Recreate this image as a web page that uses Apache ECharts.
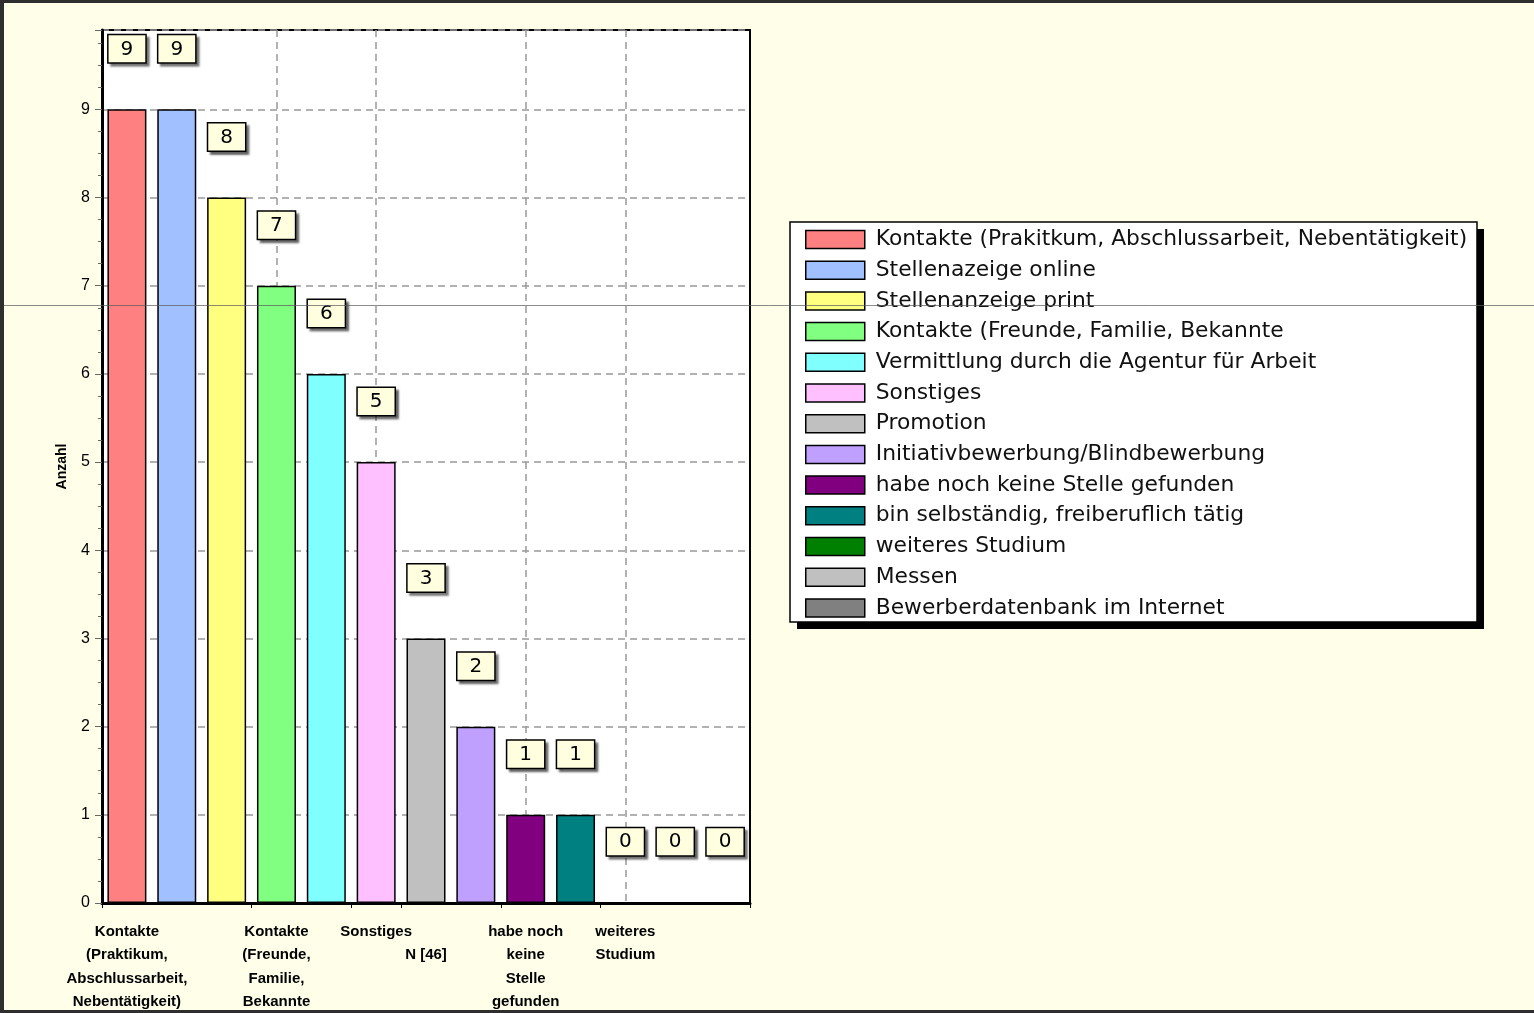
<!DOCTYPE html>
<html>
<head>
<meta charset="utf-8">
<script src="https://cdn.jsdelivr.net/npm/echarts@6/dist/echarts.min.js"></script>
<style>
  html, body { margin: 0; padding: 0; background: #2e2e2e; }
  #chart { position: absolute; left: 4px; top: 3px; width: 1530px; height: 1007px; background: #fefee9; }
</style>
</head>
<body>
<div id="chart"></div>
<script>
// Kategorien (Legende) und Werte
var categories = [
  'Kontakte (Prakitkum, Abschlussarbeit, Nebentätigkeit)',
  'Stellenazeige online',
  'Stellenanzeige print',
  'Kontakte (Freunde, Familie, Bekannte',
  'Vermittlung durch die Agentur für Arbeit',
  'Sonstiges',
  'Promotion',
  'Initiativbewerbung/Blindbewerbung',
  'habe noch keine Stelle gefunden',
  'bin selbständig, freiberuflich tätig',
  'weiteres Studium',
  'Messen',
  'Bewerberdatenbank im Internet'
]
var values = [9, 9, 8, 7, 6, 5, 3, 2, 1, 1, 0, 0, 0]
var colors = ['#ff8080', '#a0c0ff', '#ffff80', '#80ff80', '#80ffff', '#ffc0ff', '#c0c0c0',
  '#c0a0ff', '#800080', '#008080', '#008000', '#c0c0c0', '#808080']
// Achsenbeschriftungen unten (nur einige Kategorien beschriftet)
var xTickLabels = [
  'Kontakte\n(Praktikum,\nAbschlussarbeit,\nNebentätigkeit)', '', '',
  'Kontakte\n(Freunde,\nFamilie,\nBekannte', '',
  'Sonstiges', '\nN [46]', '',
  'habe noch\nkeine\nStelle\ngefunden', '',
  'weiteres\nStudium', '', ''
]
var gridCats = [3, 5, 8, 10]
var yTicks = [0, 1, 2, 3, 4, 5, 6, 7, 8, 9]

var chart = echarts.init(document.getElementById('chart'))

var series = categories.map(function(name, i) {
  return {
    name: name,
    type: 'bar',
    stack: 'all',
    barWidth: 39,
    data: values.map(function(v, j) { return j === i ? v : '-' }),
    itemStyle: { color: colors[i], borderColor: '#000', borderWidth: 1.5 },
    label: {
      show: true,
      position: 'top',
      distance: 47,
      formatter: '{c}',
      fontFamily: 'DejaVu Sans',
      fontSize: 20,
      color: '#000',
      backgroundColor: '#ffffe0',
      borderColor: '#000',
      borderWidth: 1.5,
      padding: [4, 12, 3, 12],
      shadowColor: 'rgba(0,0,0,0.45)',
      shadowBlur: 2,
      shadowOffsetX: 3,
      shadowOffsetY: 3
    }
  }
})

chart.setOption({
  animation: false,
  backgroundColor: '#fefee9',
  grid: {
    left: 98,
    top: 27,
    width: 648,
    height: 873,
    outerBoundsMode: 'none',
    containLabel: false,
    show: true,
    backgroundColor: '#fff',
    borderColor: '#000',
    borderWidth: 2
  },
  legend: {
    orient: 'vertical',
    left: 786,
    top: 219,
    icon: 'rect',
    itemWidth: 59,
    itemHeight: 18,
    itemGap: 8.7,
    padding: [6.5, 11, 8, 15],
    itemStyle: { borderColor: '#000', borderWidth: 1.5 },
    textStyle: { fontFamily: 'DejaVu Sans', fontSize: 21.8, color: '#111', padding: [0, 0, 0, 6] },
    data: categories
  },
  xAxis: {
    type: 'category',
    data: categories,
    axisLine: { lineStyle: { color: '#000', width: 3 } },
    axisTick: { show: true, length: 5, lineStyle: { color: '#000' } },
    axisLabel: {
      interval: function(i) { return xTickLabels[i] !== '' },
      formatter: function(v, i) { return xTickLabels[i] },
      margin: 17,
      fontFamily: 'Liberation Sans',
      fontWeight: 'bold',
      fontSize: 15,
      lineHeight: 23.5,
      color: '#000'
    },
    splitLine: {
      show: true,
      alignWithLabel: true,
      interval: function(i) { return gridCats.indexOf(i) >= 0 },
      lineStyle: { color: '#999', type: [7, 5], width: 1.5 }
    }
  },
  yAxis: {
    type: 'value',
    min: 0,
    max: 9.9,
    interval: 1,
    name: 'Anzahl',
    nameLocation: 'middle',
    nameGap: 33,
    nameTextStyle: { fontFamily: 'Liberation Sans', fontWeight: 'bold', fontSize: 14, color: '#000' },
    axisLine: { show: true, lineStyle: { color: '#000', width: 3 } },
    axisTick: { show: true, length: 7, lineStyle: { color: '#666' } },
    minorTick: { show: true, splitNumber: 4, length: 4, lineStyle: { color: '#666' } },
    axisLabel: {
      margin: 12,
      fontFamily: 'Liberation Sans',
      fontSize: 16,
      color: '#000',
      formatter: function(v) { return yTicks.indexOf(v) >= 0 ? String(v) : '' }
    },
    splitLine: { show: true, lineStyle: { color: '#999', type: [7, 5], width: 1.5 } }
  },
  graphic: [
    // Legendenrahmen mit Schatten
    { type: 'rect', z: -1, shape: { x: 793, y: 226, width: 687, height: 400 }, style: { fill: '#000' } },
    { type: 'rect', z: -1, shape: { x: 786, y: 219, width: 687, height: 400 }, style: { fill: '#fff', stroke: '#000', lineWidth: 1.5 } },
    { type: 'line', z: 100, shape: { x1: -4, y1: 302.5, x2: 1530, y2: 302.5 }, style: { stroke: 'rgba(90,90,90,0.7)', lineWidth: 1 } }
  ],
  series: series
})
</script>
</body>
</html>
